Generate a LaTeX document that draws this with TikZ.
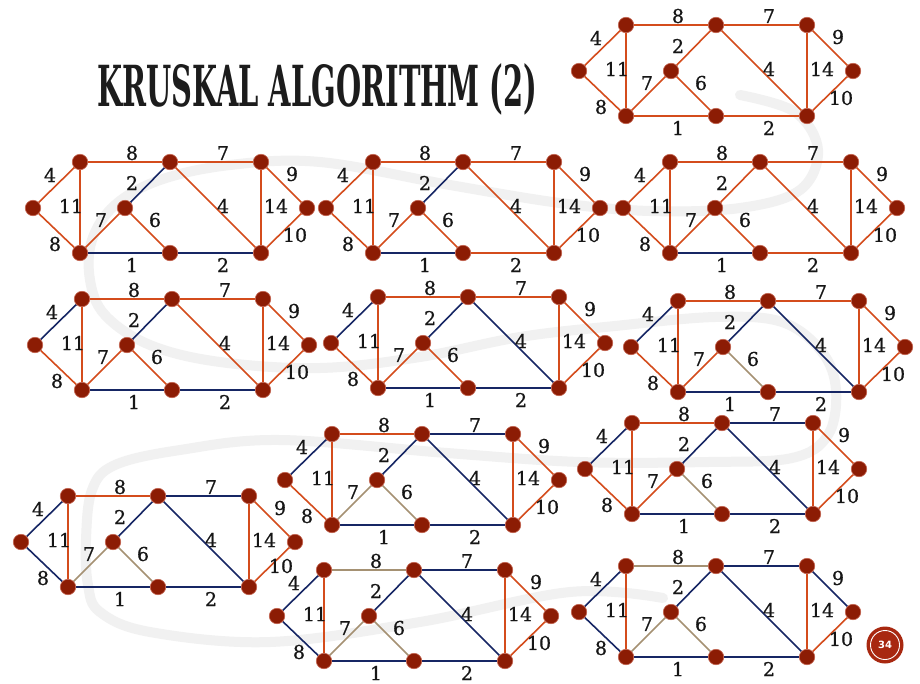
\documentclass[tikz,border=0pt]{standalone}
\usepackage{fontspec}
\usepackage{graphicx}
\setmainfont{DejaVu Serif}
\newfontfamily\labfont[FakeBold=0.8]{DejaVu Serif}
\newfontfamily\badgefont{DejaVu Sans}
\definecolor{eorange}{RGB}{212,76,28}
\definecolor{enavy}{RGB}{22,38,100}
\definecolor{etan}{RGB}{165,145,115}
\definecolor{ballred}{RGB}{140,28,4}
\definecolor{ballrim}{RGB}{196,100,80}
\definecolor{swooshgray}{RGB}{241,241,241}
\definecolor{labelink}{RGB}{22,22,22}
\definecolor{titleink}{RGB}{28,28,28}
\definecolor{badgered}{RGB}{168,40,16}
\pgfdeclarelayer{swooshlayer}
\pgfdeclarelayer{edgelayer}
\pgfsetlayers{swooshlayer,edgelayer,main}
\tikzset{
  vtx/.style={circle, inner sep=0pt, minimum size=15.5pt, fill=ballred, draw=ballrim, line width=0.6pt},
  eo/.style={draw=eorange, line width=1.6pt},
  en/.style={draw=enavy, line width=1.6pt},
  et/.style={draw=etan, line width=1.6pt},
  wlab/.style={font=\labfont\fontsize{19}{19}\selectfont, text=labelink, inner sep=0pt},
  labef/.style={},
  alloran/.style={eab/.style=eo, eah/.style=eo, ebc/.style=eo, ebh/.style=eo, ecd/.style=eo, eci/.style=eo, ecf/.style=eo, ede/.style=eo, edf/.style=eo, eef/.style=eo, efg/.style=eo, egh/.style=eo, egi/.style=eo, ehi/.style=eo},
  nv/.style={e#1/.style=en},
  tn/.style={e#1/.style=et},
}
\newcommand\kgraph[4]{%
\begin{scope}[shift={(#2,#3)}, alloran, #4]
  \node[vtx] (#1a) at (-47,-45) {};
  \node[vtx] (#1b) at (0,-91) {};
  \node[vtx] (#1c) at (90,-91) {};
  \node[vtx] (#1d) at (181,-91) {};
  \node[vtx] (#1e) at (227,-45) {};
  \node[vtx] (#1f) at (181,0) {};
  \node[vtx] (#1g) at (90,0) {};
  \node[vtx] (#1h) at (0,0) {};
  \node[vtx] (#1i) at (45,-45) {};
  \begin{pgfonlayer}{edgelayer}
    \foreach \u/\v in {a/b,a/h,b/c,b/h,c/d,c/i,c/f,d/e,d/f,e/f,f/g,g/h,g/i,h/i}
      \draw[style/.expanded={e\u\v}] (#1\u) -- (#1\v);
  \end{pgfonlayer}
  \node[wlab] (#1lab) at (-30,-78) {4};
  \node[wlab] (#1lah) at (-25,-9) {8};
  \node[wlab] (#1lbh) at (-9,-47) {11};
  \node[wlab] (#1lbc) at (52,-100) {8};
  \node[wlab] (#1lcd) at (143,-100) {7};
  \node[wlab] (#1lci) at (52,-70) {2};
  \node[wlab] (#1lhi) at (21,-33) {7};
  \node[wlab] (#1lgi) at (75,-33) {6};
  \node[wlab] (#1lcf) at (143,-47) {4};
  \node[wlab] (#1ldf) at (196,-47) {14};
  \node[wlab] (#1lde) at (212,-79) {9};
  \node[wlab, labef] (#1lef) at (215,-18) {10};
  \node[wlab] (#1lgh) at (52,12) {1};
  \node[wlab] (#1lfg) at (143,12) {2};
\end{scope}}
\begin{document}
\begin{tikzpicture}[x=1pt,y=-1pt]
\useasboundingbox (0,0) rectangle (920,683);
\begin{pgfonlayer}{swooshlayer}
  \fill[white] (0,0) rectangle (920,683);
  \draw[swooshgray, line width=10pt, line cap=round] plot[smooth, tension=0.6] coordinates {
    (740,95) (795,112) (818,150) (800,190) (740,208) (650,211) (560,203) (450,185) (320,162)
    (230,165) (160,180) (115,205) (92,240) (90,280) (105,315) (150,345) (220,362) (320,368)
    (420,357) (520,337) (615,326) (715,317) (782,322) (822,352) (836,390) (828,435) (792,458)
    (708,462) (580,462) (447,453) (280,440) (180,450) (115,465) (92,490) (86,540) (88,585)
    (100,612) (150,632) (270,642) (420,622) (570,592) (663,598)};
\end{pgfonlayer}
\node[anchor=base west, inner sep=0pt, text=titleink] (title) at (97,106)
  {\resizebox{440pt}{43pt}{\bfseries KRUSKAL ALGORITHM (2)}};
\kgraph{t}{626}{116}{}
\kgraph{p}{80}{253}{nv=ci, nv=gh, nv=fg}
\kgraph{q}{373}{253}{nv=ci, nv=gh}
\kgraph{r}{670}{253}{nv=gh}
\kgraph{s}{82}{390}{nv=ab, nv=ci, nv=gh, nv=fg}
\kgraph{u}{378}{388}{nv=ab, nv=ci, nv=cf, nv=gh, nv=fg}
\kgraph{v}{678}{392}{nv=ab, nv=ci, nv=cf, nv=gh, nv=fg, tn=gi}
\kgraph{w}{632}{514}{nv=ab, nv=ci, nv=cd, nv=cf, nv=gh, nv=fg, tn=gi}
\kgraph{x}{332}{525}{nv=ab, nv=ci, nv=cd, nv=cf, nv=gh, nv=fg, tn=gi, tn=hi}
\kgraph{y}{68}{587}{nv=ab, nv=ah, nv=ci, nv=cd, nv=cf, nv=gh, nv=fg, tn=gi, tn=hi, labef/.style={xshift=-2pt, yshift=3pt}}
\kgraph{z}{324}{661}{nv=ab, nv=ah, nv=ci, nv=cd, nv=cf, nv=gh, nv=fg, tn=gi, tn=hi, tn=bc}
\kgraph{k}{626}{657}{nv=ab, nv=ah, nv=ci, nv=cd, nv=cf, nv=gh, nv=fg, nv=de, tn=gi, tn=hi, tn=bc}
\node[circle, fill=badgered, minimum size=37pt, inner sep=0pt] (badge) at (885,645) {};
\draw[white, line width=0.9pt] (badge.center) circle (14.5);
\node[text=white, inner sep=0pt, font=\badgefont\bfseries\fontsize{10}{10}\selectfont] (pnum) at (badge.center) {34};
\end{tikzpicture}
\end{document}
